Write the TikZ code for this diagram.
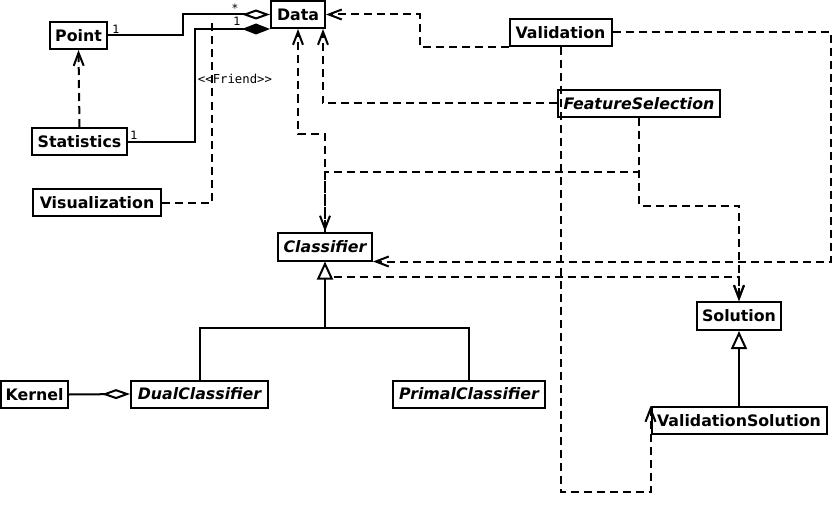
\documentclass[tikz,border=0pt]{standalone}
\usepackage{fontspec}
\setmainfont{DejaVu Sans}
\setmonofont{DejaVu Sans Mono}
\usetikzlibrary{arrows.meta}
\begin{document}
\begin{tikzpicture}[x=1pt,y=-1pt,
  cls/.style={draw, line width=2pt, fill=white, inner sep=0pt, minimum height=27pt,
    font=\fontsize{15.8}{18}\selectfont\bfseries},
  acls/.style={cls, font=\fontsize{15.8}{18}\selectfont\bfseries\itshape},
  solidline/.style={line width=2pt},
  depline/.style={line width=2pt, dash pattern=on 8pt off 5pt,
    -{Straight Barb[length=13pt,width=10pt]}},
  plainline/.style={line width=2pt, dash pattern=on 8pt off 5pt},
  aggr/.style={solidline, -{Diamond[open,length=28pt,width=10pt]}},
  compo/.style={solidline, -{Diamond[length=28pt,width=11pt]}},
  inherit/.style={solidline, -{Triangle[open,length=18pt,width=16pt]}},
  mult/.style={font=\fontsize{11.5}{13}\selectfont, inner sep=0pt},
  stereo/.style={font=\fontsize{12.3}{14}\selectfont\ttfamily, inner sep=0pt}
]
\useasboundingbox (0,0) rectangle (836,511);

% classes
\node[cls, minimum width=57pt] (Point) at (78.5,35.5) {Point};
\node[cls, minimum width=54pt] (Data) at (298,14.5) {Data};
\node[cls, minimum width=102pt] (Validation) at (560.5,32.5) {Validation};
\node[acls, minimum width=162pt] (FeatureSelection) at (639,103.5) {FeatureSelection};
\node[cls, minimum width=95pt] (Statistics) at (79.5,141.5) {Statistics};
\node[cls, minimum width=128pt] (Visualization) at (97,202.5) {Visualization};
\node[acls, minimum width=94pt, minimum height=28pt] (Classifier) at (325,246.5) {Classifier};
\node[cls, minimum width=84pt, minimum height=28pt] (Solution) at (739,316) {Solution};
\node[cls, minimum width=67pt] (Kernel) at (34.5,394.5) {Kernel};
\node[acls, minimum width=137pt] (DualClassifier) at (199.5,394) {DualClassifier};
\node[acls, minimum width=152pt] (PrimalClassifier) at (469,394) {PrimalClassifier};
\node[cls, minimum width=175pt] (ValidationSolution) at (739,420.5) {ValidationSolution};

% associations to Data
\draw[aggr] (Point.east) -- (183,35.5) |- (Data.west);
\draw[compo] (Statistics.east) -- (195,141.5) |- (Data.south west);
\node[mult] (m1) at (116,29) {1};
\node[mult] (m2) at (235,8) {*};
\node[mult] (m3) at (237,21) {1};
\node[mult] (m4) at (134,135) {1};

% dependencies
\draw[depline] (Statistics.north) -- (Point.south);
\coordinate (friendEnd) at (212,22);
\draw[plainline] (Visualization.east) -| (friendEnd);
\node[stereo] (friend) at (235,79) {<\kern0pt<Friend>\kern0pt>};

\draw[depline] (Validation.south west) -- ++(-89,0) |- (Data.east);
\draw[depline] (Validation.east) -- (831,32.5) |- (Classifier.south east);
\draw[depline] (Validation.south) -- (560.5,492) -| (ValidationSolution.north west);
\draw[depline] (FeatureSelection.west) -| ([xshift=25pt]Data.south);
\draw[depline] (Classifier.north) -- (325,134) -| (Data.south);
\draw[depline] (FeatureSelection.south) -- (639,172) -| (Classifier.north);
\draw[depline] (FeatureSelection.south) -- (639,205.5) -| (Solution.north);
\coordinate (realStart) at (333.5,277);
\draw[depline] (realStart) -| (Solution.north);

% generalizations
\coordinate (gjoin) at (325,328);
\draw[solidline] (DualClassifier.north) |- (gjoin) -| (PrimalClassifier.north);
\draw[inherit] (gjoin) -- (Classifier.south);
\draw[inherit] (ValidationSolution.north) -- (Solution.south);

% kernel aggregation
\draw[aggr] (Kernel.east) -- (DualClassifier.west);
\end{tikzpicture}
\end{document}
